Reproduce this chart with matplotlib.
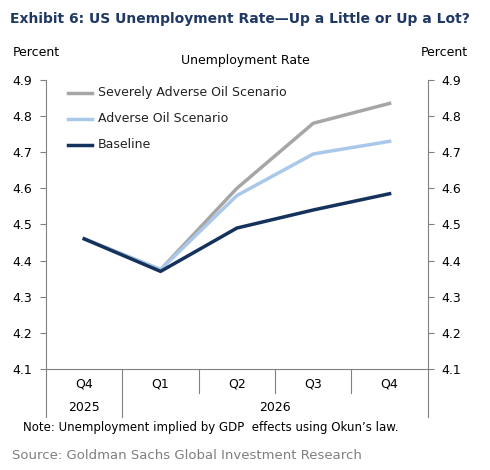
import matplotlib.pyplot as plt
from matplotlib.lines import Line2D

quarters = ['Q4', 'Q1', 'Q2', 'Q3', 'Q4']
baseline = [4.46, 4.37, 4.49, 4.54, 4.585]
adverse = [4.46, 4.375, 4.58, 4.695, 4.73]
severe = [4.46, 4.375, 4.60, 4.78, 4.835]
yticks = [4.1, 4.2, 4.3, 4.4, 4.5, 4.6, 4.7, 4.8, 4.9]

fig = plt.figure(figsize=(4.9, 4.7), dpi=100)
ax = fig.add_axes([0.094, 0.215, 0.779, 0.615])
x = range(len(quarters))
ax.plot(x, severe, color='#a6a6a6', lw=2.5)
ax.plot(x, adverse, color='#a9c8ea', lw=2.5)
ax.plot(x, baseline, color='#14325c', lw=2.5)
ax.set_xlim(-0.5, 4.5)
ax.set_ylim(4.1, 4.9)
ax.set_yticks(yticks)
ax.tick_params(axis='y', labelsize=9, length=4, color='#808080', direction='out',
               left=True, right=True, labelleft=True, labelright=True, pad=6)
ax.set_yticklabels([f'{v:.1f}' for v in yticks])
ax.set_xticks([])
ax.spines['top'].set_visible(False)
for s in ['left', 'right', 'bottom']:
    ax.spines[s].set_color('#808080')

# category rows below the axis
tr = ax.get_xaxis_transform()
for i, q in enumerate(quarters):
    ax.text(i, -0.053, q, transform=tr, ha='center', va='center', fontsize=9)
ax.text(0, -0.135, '2025', transform=tr, ha='center', va='center', fontsize=9)
ax.text(2.5, -0.135, '2026', transform=tr, ha='center', va='center', fontsize=9)
for b in [1.5, 2.5, 3.5]:
    ax.add_line(Line2D([b, b], [0, -0.083], transform=tr, color='#808080', lw=0.8, clip_on=False))
for b in [-0.5, 0.5, 4.5]:
    ax.add_line(Line2D([b, b], [0, -0.166], transform=tr, color='#808080', lw=0.8, clip_on=False))

# legend
for i, (lab, col) in enumerate([('Severely Adverse Oil Scenario', '#a6a6a6'),
                                ('Adverse Oil Scenario', '#a9c8ea'),
                                ('Baseline', '#14325c')]):
    yy = 0.955 - i * 0.09
    ax.add_line(Line2D([0.058, 0.12], [yy, yy], transform=ax.transAxes, color=col, lw=2.5))
    ax.text(0.135, yy, lab, transform=ax.transAxes, va='center', fontsize=9, color='#222222')

fig.text(0.02, 0.96, 'Exhibit 6: US Unemployment Rate\u2014Up a Little or Up a Lot?',
         fontsize=10, fontweight='bold', color='#1f3864', va='center')
fig.text(0.025, 0.888, 'Percent', fontsize=9, va='center')
fig.text(0.955, 0.888, 'Percent', fontsize=9, va='center', ha='right')
fig.text(0.5, 0.872, 'Unemployment Rate', fontsize=9, va='center', ha='center')
fig.text(0.047, 0.09, 'Note: Unemployment implied by GDP  effects using Okun\u2019s law.',
         fontsize=8.5, va='center')
fig.text(0.025, 0.03, 'Source: Goldman Sachs Global Investment Research',
         fontsize=9.5, va='center', color='#7f7f7f')

fig.savefig('out.png', dpi=100)
